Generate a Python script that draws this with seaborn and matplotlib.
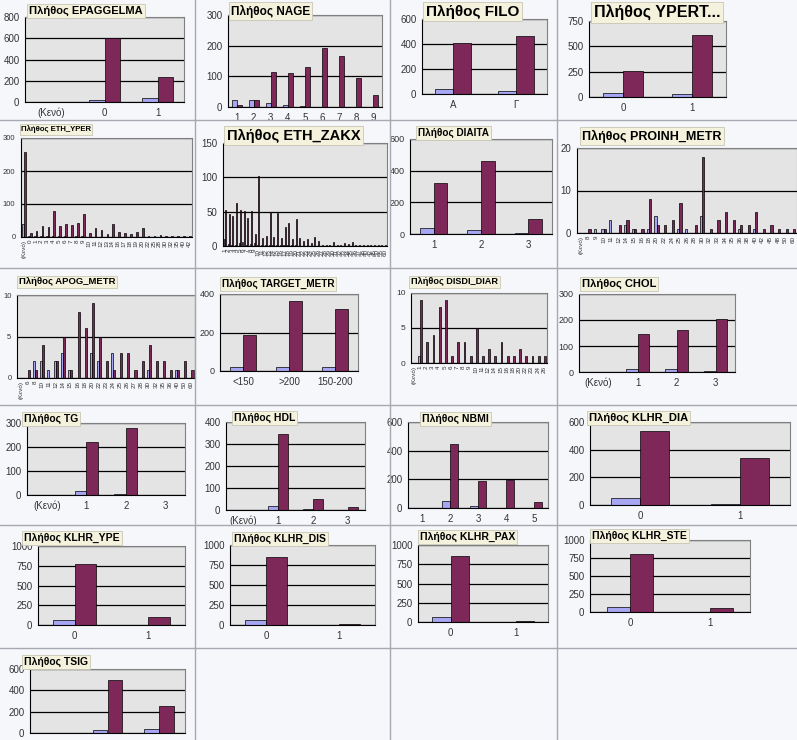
import numpy as np
import pandas as pd
import matplotlib.pyplot as plt
import seaborn as sns
from matplotlib.lines import Line2D

sns.set_style('white')
plt.rcParams['font.family'] = ['Liberation Sans', 'DejaVu Sans']

# ---- data ----
epaggelma_cats = ['(Κενό)', '0', '1']
epaggelma_a = [0, 20, 40]
epaggelma_b = [0, 605, 235]

nage_cats = ['1', '2', '3', '4', '5', '6', '7', '8', '9']
nage_a = [22, 24, 13, 7, 2, 0, 0, 0, 0]
nage_b = [5, 22, 113, 110, 130, 193, 165, 95, 40]

filo_cats = ['Α', 'Γ']
filo_a = [42, 22]
filo_b = [408, 468]

ypert_cats = ['0', '1']
ypert_a = [35, 28]
ypert_b = [255, 615]

eth_yper_cats = ['(Κενό)', '0', '1', '2', '3', '4', '5', '6', '7', '8', '9', '10', '11', '12', '13', '14',
                 '16', '17', '18', '19', '20', '22', '25', '28', '30', '32', '35', '40', '42']
eth_yper_a = [40, 2, 2, 3, 2, 3, 2, 2, 1, 2, 2, 1, 1, 1, 0, 1, 1, 0, 0, 1, 1, 0, 0, 0, 0, 0, 0, 0, 0]
eth_yper_b = [258, 12, 18, 32, 30, 78, 32, 38, 36, 42, 70, 12, 26, 22, 10, 40, 15, 12, 10, 16, 26,
              3, 3, 5, 2, 3, 3, 2, 2]

eth_zakx_cats = ['1', '2', '3', '4', '5', '6', '7', '8', '9', '10', '11', '12', '13', '14', '15',
                 '16', '17', '18', '19', '20', '21', '22', '23', '24', '25', '26', '27', '28', '29', '30',
                 '31', '32', '33', '34', '35', '36', '37', '38', '40', '42', '45', '50', '55', '60']
eth_zakx_a = [10, 3, 2, 2, 5, 6, 2, 3, 4, 2, 1, 1, 2, 1, 1, 1, 1, 1, 1, 1, 0, 0, 0, 0, 0, 0, 0, 0,
              0, 0, 0, 0, 0, 0, 0, 0, 0, 0, 0, 0, 0, 0, 0, 0]
eth_zakx_b = [52, 47, 43, 62, 52, 51, 41, 51, 18, 102, 11, 14, 50, 13, 48, 12, 28, 34, 10, 40,
              11, 8, 10, 4, 13, 7, 2, 2, 2, 6, 2, 1, 4, 3, 6, 1, 2, 1, 1, 2, 1, 1, 1, 1]

diaita_cats = ['1', '2', '3']
diaita_a = [35, 25, 5]
diaita_b = [320, 462, 92]

proinh_cats = ['(Κενό)', '8', '9', '10', '11', '12', '14', '15', '16', '18', '20', '22', '24', '25', '26',
               '28', '30', '32', '33', '34', '35', '36', '38', '40', '42', '45', '48', '50', '60']
proinh_a = [0, 0, 1, 1, 3, 0, 2, 1, 0, 1, 4, 0, 0, 1, 1, 0, 4, 0, 0, 0, 0, 1, 0, 1, 0, 0, 0, 0, 0]
proinh_b = [0, 1, 0, 1, 0, 2, 3, 1, 1, 8, 2, 2, 3, 7, 0, 2, 18, 1, 3, 5, 3, 2, 2, 5, 1, 2, 1, 1, 1]

apog_cats = ['(Κενό)', '6', '8', '10', '11', '12', '14', '15', '16', '18', '20', '22', '23', '24', '25',
             '26', '27', '28', '30', '32', '35', '36', '40', '50', '60']
apog_a = [0, 0, 2, 2, 1, 2, 3, 1, 0, 0, 3, 2, 0, 3, 0, 0, 0, 0, 1, 0, 0, 0, 1, 0, 0]
apog_b = [0, 1, 1, 4, 0, 2, 5, 1, 8, 6, 9, 5, 2, 1, 3, 3, 1, 2, 4, 2, 2, 1, 1, 2, 1]

target_cats = ['<150', '>200', '150-200']
target_a = [22, 22, 22]
target_b = [185, 362, 322]

disdi_cats = ['(Κενό)', '1', '2', '3', '4', '5', '6', '7', '8', '9', '10', '11', '12', '14', '15', '16',
              '18', '20', '22', '23', '24', '26']
disdi_a = [0, 1, 0, 0, 0, 0, 0, 0, 0, 0, 0, 0, 0, 0, 0, 0, 0, 0, 0, 0, 0, 0]
disdi_b = [0, 9, 3, 4, 8, 9, 1, 3, 3, 1, 5, 1, 2, 1, 3, 1, 1, 2, 1, 1, 1, 1]

chol_cats = ['(Κενό)', '1', '2', '3']
chol_a = [0, 13, 10, 3]
chol_b = [0, 145, 163, 203]

tg_cats = ['(Κενό)', '1', '2', '3']
tg_a = [0, 18, 3, 0]
tg_b = [0, 222, 280, 0]

hdl_cats = ['(Κενό)', '1', '2', '3']
hdl_a = [0, 20, 3, 1]
hdl_b = [0, 345, 48, 15]

nbmi_cats = ['1', '2', '3', '4', '5']
nbmi_a = [0, 50, 12, 3, 1]
nbmi_b = [0, 445, 188, 197, 42]

klhr_dia_cats = ['0', '1']
klhr_dia_a = [50, 10]
klhr_dia_b = [535, 340]

klhr_ype_cats = ['0', '1']
klhr_ype_a = [60, 5]
klhr_ype_b = [770, 95]

klhr_dis_cats = ['0', '1']
klhr_dis_a = [65, 3]
klhr_dis_b = [855, 18]

klhr_pax_cats = ['0', '1']
klhr_pax_a = [65, 2]
klhr_pax_b = [855, 10]

klhr_ste_cats = ['0', '1']
klhr_ste_a = [65, 2]
klhr_ste_b = [805, 62]

tsig_cats = ['(Κενό)', '0', '1']
tsig_a = [0, 30, 40]
tsig_b = [0, 500, 250]

# title, cats, a, b, ymax, ystep, axes px (l, t, r, b), title left/top px, title size,
# x label mode ('flat', 'rot' or 'none' when cut off by the sheet edge), y tick size
panels = [
    ('Πλήθος EPAGGELMA', epaggelma_cats, epaggelma_a, epaggelma_b, 800, 200, (25, 17, 184, 102), (27, 4), 8, 'flat', 7),
    ('Πλήθος NAGE', nage_cats, nage_a, nage_b, 300, 100, (228, 15, 382, 107), (229, 3), 8.5, 'flat', 7),
    ('Πλήθος FILO', filo_cats, filo_a, filo_b, 600, 200, (422, 19, 547, 94), (424, 3), 11, 'flat', 7),
    ('Πλήθος YPERT...', ypert_cats, ypert_a, ypert_b, 750, 250, (589, 21, 726, 97), (592, 3), 11.5, 'flat', 7),
    ('Πλήθος ETH_YPER', eth_yper_cats, eth_yper_a, eth_yper_b, 300, 100, (21, 138, 192, 237), (19, 124), 5.6, 'rot', 5.5),
    ('Πλήθος ETH_ZAKX', eth_zakx_cats, eth_zakx_a, eth_zakx_b, 150, 50, (223, 143, 387, 246), (225, 127), 10.5, 'rot', 7),
    ('Πλήθος DIAITA', diaita_cats, diaita_a, diaita_b, 600, 200, (410, 139, 552, 234), (416, 126), 7.2, 'flat', 6.5),
    ('Πλήθος PROINH_METR', proinh_cats, proinh_a, proinh_b, 20, 10, (577, 148, 797, 233), (580, 128), 9, 'rot', 7),
    ('Πλήθος APOG_METR', apog_cats, apog_a, apog_b, 10, 5, (17, 295, 195, 378), (17, 276), 6.8, 'rot', 5.5),
    ('Πλήθος TARGET_METR', target_cats, target_a, target_b, 400, 200, (220, 294, 358, 371), (220, 277), 7.2, 'flat', 6.5),
    ('Πλήθος DISDI_DIAR', disdi_cats, disdi_a, disdi_b, 10, 5, (411, 293, 547, 363), (409, 276), 6.6, 'rot', 6),
    ('Πλήθος CHOL', chol_cats, chol_a, chol_b, 300, 100, (579, 294, 735, 372), (580, 277), 8, 'flat', 6.5),
    ('Πλήθος TG', tg_cats, tg_a, tg_b, 300, 100, (27, 423, 185, 495), (22, 412), 7.5, 'flat', 7),
    ('Πλήθος HDL', hdl_cats, hdl_a, hdl_b, 400, 100, (226, 422, 365, 510), (232, 411), 7.5, 'flat', 7),
    ('Πλήθος NBMI', nbmi_cats, nbmi_a, nbmi_b, 600, 200, (408, 422, 548, 508), (420, 412), 7.5, 'flat', 7),
    ('Πλήθος KLHR_DIA', klhr_dia_cats, klhr_dia_a, klhr_dia_b, 600, 200, (590, 422, 790, 505), (587, 411), 8, 'flat', 7),
    ('Πλήθος KLHR_YPE', klhr_ype_cats, klhr_ype_a, klhr_ype_b, 1000, 250, (38, 546, 185, 625), (22, 531), 7.5, 'flat', 7),
    ('Πλήθος KLHR_DIS', klhr_dis_cats, klhr_dis_a, klhr_dis_b, 1000, 250, (230, 545, 375, 625), (232, 532), 7.5, 'flat', 7),
    ('Πλήθος KLHR_PAX', klhr_pax_cats, klhr_pax_a, klhr_pax_b, 1000, 250, (418, 545, 548, 622), (418, 530), 7.5, 'flat', 7),
    ('Πλήθος KLHR_STE', klhr_ste_cats, klhr_ste_a, klhr_ste_b, 1000, 250, (590, 540, 750, 612), (590, 529), 7.5, 'flat', 7),
    ('Πλήθος TSIG', tsig_cats, tsig_a, tsig_b, 600, 200, (30, 669, 185, 733), (22, 655), 7.5, 'none', 7),
]

W, H = 797, 740
BLUE = '#9999ff'
RED = '#8c1a5c'

fig = plt.figure(figsize=(W / 100, H / 100), dpi=100)
fig.patch.set_facecolor('#f5f7fb')

# spreadsheet cell borders
for x in [195, 390, 557]:
    fig.add_artist(Line2D([x / W, x / W], [0, 1], color='#a8a8b0', lw=1, zorder=0.5))
for y in [120, 268, 405, 525, 648]:
    fig.add_artist(Line2D([0, 1], [1 - y / H, 1 - y / H], color='#a8a8b0', lw=1, zorder=0.5))

for title, cats, a, b, ymax, ystep, box, tpos, tfs, xmode, yfs in panels:
    l, t, r, bt = box
    ax = fig.add_axes([l / W, 1 - bt / H, (r - l) / W, (bt - t) / H])
    n = len(cats)
    df = pd.DataFrame({'cat': cats + cats,
                       'grp': ['a'] * n + ['b'] * n,
                       'val': a + b})
    sns.barplot(data=df, x='cat', y='val', hue='grp', order=cats, hue_order=['a', 'b'],
                palette=[BLUE, RED], width=0.58, edgecolor='black', linewidth=0.5,
                ax=ax, legend=False)
    ax.set_facecolor('#e4e4e4')
    ax.set_xlim(-0.5, n - 0.5)
    ax.set_ylim(0, ymax)
    ax.set_yticks(np.arange(0, ymax + 1, ystep))
    ax.yaxis.grid(True, color='black', lw=0.9)
    ax.set_axisbelow(True)
    ax.set_xlabel('')
    ax.set_ylabel('')
    for s in ['left', 'bottom']:
        ax.spines[s].set_color('black')
        ax.spines[s].set_linewidth(0.8)
    for s in ['top', 'right']:
        ax.spines[s].set_color('#808080')
        ax.spines[s].set_linewidth(0.8)
    ax.tick_params(axis='y', labelsize=yfs, labelcolor='#333333',
                   length=3, width=0.6, pad=1)
    ax.set_xticks(np.arange(-0.5, n), minor=True)
    ax.tick_params(axis='x', which='minor', length=3, width=0.6, direction='inout')
    if xmode == 'rot':
        ax.tick_params(axis='x', which='major', length=0, labelsize=4.5, rotation=90,
                       labelcolor='#333333', pad=2)
    elif xmode == 'flat':
        ax.tick_params(axis='x', which='major', length=0, labelsize=7,
                       labelcolor='#333333', pad=4)
    else:
        # the sheet ends before the category labels of this chart
        ax.tick_params(axis='x', which='major', length=0, labelbottom=False)

    # chart title in a small beige box
    tx, ty = tpos
    fig.text((tx + 2) / W, 1 - (ty + 1.5) / H, title, ha='left', va='top',
             fontsize=tfs, fontweight='bold', color='black', zorder=6,
             bbox=dict(boxstyle='square,pad=0.18', facecolor='#f4f1dc',
                       edgecolor='#c8c6b4', lw=0.6))

fig.savefig('out.png', dpi=100, facecolor=fig.get_facecolor())
